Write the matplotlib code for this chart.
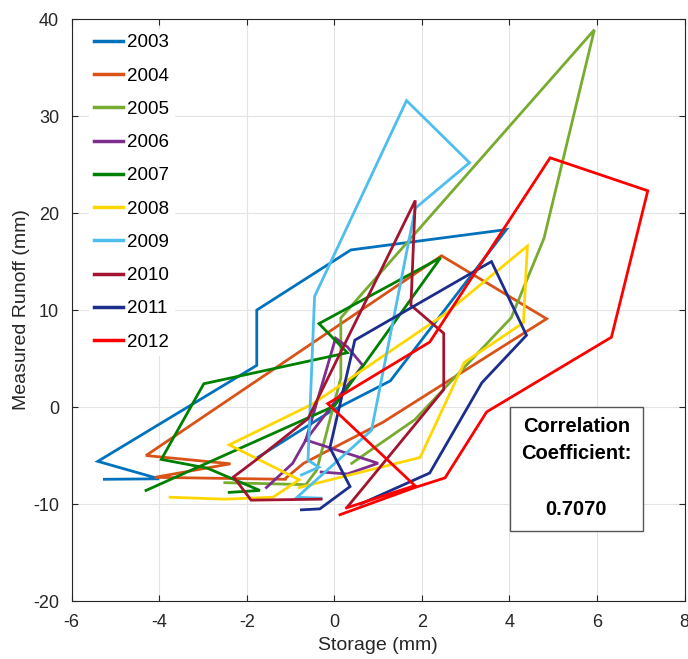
import matplotlib.pyplot as plt
from matplotlib.patches import Rectangle

# ---- data ----
years = ["2003", "2004", "2005", "2006", "2007", "2008", "2009", "2010", "2011", "2012"]
colors = ["#0072BD", "#D95319", "#77AC30", "#7E2F8E", "#008000",
          "#FFD700", "#4DBEEE", "#A2142F", "#1C2E8C", "#FF0000"]

storage_2003 = [-5.25, -4.0, -5.4, -1.77, -1.77, 0.38, 3.93, 1.28, -0.1, -1.75]
runoff_2003  = [-7.45, -7.4, -5.6, 4.3, 10.0, 16.2, 18.3, 2.7, -0.5, -5.2]

storage_2004 = [-1.12, -4.1, -2.37, -4.3, 2.45, 4.85, 1.1, -0.7, -1.1]
runoff_2004  = [-7.45, -7.25, -5.85, -5.0, 15.6, 9.1, -1.6, -5.8, -7.3]

storage_2005 = [-2.5, -0.65, -0.4, 0.15, 0.15, 5.94, 4.79, 4.04, 1.84, 0.4]
runoff_2005  = [-7.8, -8.0, -6.5, 3.0, 9.2, 38.9, 17.4, 9.2, -1.3, -5.8]

storage_2006 = [-1.55, -0.95, -0.65, 0.03, 0.3, 0.65, -0.65, 1.0, 0.3, -0.3]
runoff_2006  = [-8.3, -5.8, -3.4, 7.1, 6.2, 4.3, -3.4, -5.8, -6.9, -6.7]

storage_2007 = [-4.3, 0.0, 2.43, -0.35, 0.3, -2.98, -3.95, -2.9, -1.7, -2.4]
runoff_2007  = [-8.6, 0.1, 15.4, 8.6, 5.6, 2.4, -5.4, -6.3, -8.6, -8.8]

storage_2008 = [-3.75, -2.5, -1.4, -0.8, -2.4, -0.5, 2.5, 4.41, 4.32, 2.97, 1.96, -0.8]
runoff_2008  = [-9.3, -9.5, -9.3, -7.5, -3.9, 0.3, 9.5, 16.6, 8.7, 4.6, -5.2, -8.3]

storage_2009 = [-0.3, -0.85, 0.85, 1.85, 3.09, 1.65, -0.45, -0.6, -0.35, -0.75]
runoff_2009  = [-9.4, -9.3, -2.4, 20.5, 25.2, 31.6, 11.4, -5.5, -6.2, -7.0]

storage_2010 = [-0.3, -1.9, -2.3, -1.8, -0.6, 1.85, 1.75, 2.5, 2.5, 0.3]
runoff_2010  = [-9.5, -9.6, -7.2, -5.5, -1.2, 21.3, 10.5, 7.6, 1.8, -10.3]

storage_2011 = [-0.75, -0.33, 0.36, -0.1, 0.47, 3.59, 4.39, 3.37, 2.18, 0.6]
runoff_2011  = [-10.6, -10.5, -8.2, -4.2, 6.9, 15.0, 7.4, 2.5, -6.8, -10.0]

storage_2012 = [0.28, 1.84, -0.15, 2.18, 4.93, 7.16, 6.33, 3.48, 2.53, 1.84, 0.13]
runoff_2012  = [-10.4, -8.1, 0.35, 6.7, 25.7, 22.3, 7.2, -0.5, -7.3, -8.3, -11.1]

storage = [storage_2003, storage_2004, storage_2005, storage_2006, storage_2007,
           storage_2008, storage_2009, storage_2010, storage_2011, storage_2012]
runoff = [runoff_2003, runoff_2004, runoff_2005, runoff_2006, runoff_2007,
          runoff_2008, runoff_2009, runoff_2010, runoff_2011, runoff_2012]

corr_text = "0.7070"

# ---- plot ----
plt.rcParams['font.family'] = ['Liberation Sans', 'DejaVu Sans']
plt.rcParams['axes.unicode_minus'] = False

fig = plt.figure(figsize=(6.88, 6.59), dpi=100)
ax = fig.add_axes([0.104, 0.088, 0.891, 0.883])

for yr, c, xs, ys in zip(years, colors, storage, runoff):
    ax.plot(xs, ys, color=c, lw=2.0, label=yr, solid_joinstyle='miter')

ax.set_xlim(-6, 8)
ax.set_ylim(-20, 40)
ax.set_xticks(range(-6, 9, 2))
ax.set_yticks(range(-20, 41, 10))
ax.grid(True, color='#e3e3e3', lw=0.8)
ax.set_axisbelow(True)
ax.tick_params(direction='in', length=4, labelsize=13, colors='#262626',
               top=True, right=True)
ax.tick_params(axis='x', pad=9)
ax.tick_params(axis='y', pad=9)
for s in ax.spines.values():
    s.set_color('#262626')
    s.set_linewidth(0.8)

ax.set_xlabel("Storage (mm)", fontsize=14, color='#262626', labelpad=5)
ax.set_ylabel("Measured Runoff (mm)", fontsize=14, color='#262626', labelpad=2)

leg = ax.legend(loc='upper left', bbox_to_anchor=(0.022, 0.99), fontsize=13.5,
                frameon=True, facecolor='white', edgecolor='none', framealpha=1,
                handlelength=1.55, handletextpad=0.2, labelspacing=0.86,
                borderpad=0.3, borderaxespad=0.2)
for h in leg.get_lines():
    h.set_linewidth(2.5)

# correlation box
ax.add_patch(Rectangle((4.02, -12.75), 3.03, 12.75, fill=True, facecolor='white',
                       edgecolor='#555555', lw=1.0, zorder=5))
ax.text(5.53, -1.97, "Correlation", ha='center', va='center', fontsize=14.5,
        fontweight='bold', zorder=6)
ax.text(5.53, -4.75, "Coefficient:", ha='center', va='center', fontsize=14.5,
        fontweight='bold', zorder=6)
ax.text(5.53, -10.6, corr_text, ha='center', va='center', fontsize=14.5,
        fontweight='bold', zorder=6)

fig.savefig("out.png", dpi=100)
